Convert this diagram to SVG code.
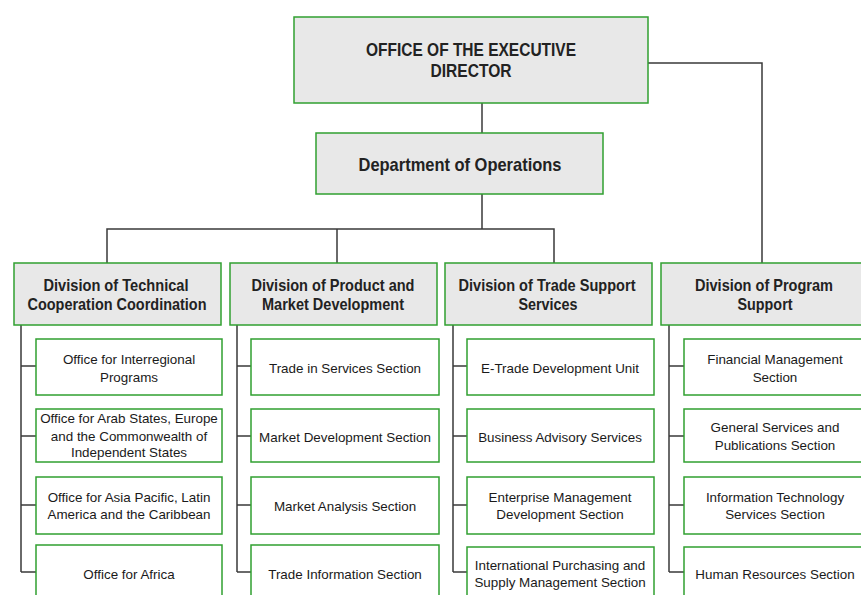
<svg xmlns="http://www.w3.org/2000/svg" width="861" height="595" viewBox="0 0 861 595">
  <style>
    .head { fill: #e8e8e8; stroke: #30a030; stroke-width: 1.5; }
    .unit { fill: #ffffff; stroke: #30a030; stroke-width: 1.5; }
    .ht { font-family: "Liberation Sans", Arial, sans-serif; font-weight: bold; fill: #222; text-anchor: middle; }
    .ut { font-family: "Liberation Sans", Arial, sans-serif; font-size: 13.4px; fill: #1a1a1a; text-anchor: middle; }
    .wire { fill: none; stroke: #3a3a3a; stroke-width: 1.5; }
    .spine { fill: none; stroke: #6a6a6a; stroke-width: 2; }
  </style>

  <!-- reporting lines -->
  <g id="connectors">
    <path class="wire" d="M482 103 V133"/>
    <path class="wire" d="M648 63 H762 V263"/>
    <path class="wire" d="M482 194 V229 M107 263 V229 H554 V263 M337 229 V263"/>
    <path class="spine" d="M21 325 V572 M237 325 V572 M453 325 V572 M669 325 V572"/>
    <path class="wire" d="M21 366 H36 M21 436 H36 M21 505 H36 M21 572 H36"/>
    <path class="wire" d="M237 366 H251 M237 436 H251 M237 505 H251 M237 572 H251"/>
    <path class="wire" d="M453 366 H467 M453 436 H467 M453 505 H467 M453 572 H467"/>
    <path class="wire" d="M669 366 H684 M669 436 H684 M669 505 H684 M669 572 H684"/>
  </g>

  <g id="executive-director">
    <rect class="head" x="294" y="17" width="354" height="86"/>
    <text class="ht" font-size="18" x="471" y="56" textLength="210" lengthAdjust="spacingAndGlyphs">OFFICE OF THE EXECUTIVE</text>
    <text class="ht" font-size="18" x="471" y="77" textLength="81" lengthAdjust="spacingAndGlyphs">DIRECTOR</text>
  </g>

  <g id="department-operations">
    <rect class="head" x="316" y="133" width="287" height="61"/>
    <text class="ht" font-size="19" x="460" y="171" textLength="203" lengthAdjust="spacingAndGlyphs">Department of Operations</text>
  </g>

  <!-- divisions -->
  <g id="div-technical">
    <rect class="head" x="14" y="263" width="207" height="62"/>
    <text class="ht" font-size="17" x="116" y="291" textLength="145" lengthAdjust="spacingAndGlyphs">Division of Technical</text>
    <text class="ht" font-size="17" x="117" y="310" textLength="179" lengthAdjust="spacingAndGlyphs">Cooperation Coordination</text>
  </g>
  <g id="div-product">
    <rect class="head" x="230" y="263" width="207" height="62"/>
    <text class="ht" font-size="17" x="333" y="291" textLength="163" lengthAdjust="spacingAndGlyphs">Division of Product and</text>
    <text class="ht" font-size="17" x="333" y="310" textLength="142" lengthAdjust="spacingAndGlyphs">Market Development</text>
  </g>
  <g id="div-trade">
    <rect class="head" x="445" y="263" width="207" height="62"/>
    <text class="ht" font-size="17" x="547" y="291" textLength="177" lengthAdjust="spacingAndGlyphs">Division of Trade Support</text>
    <text class="ht" font-size="17" x="548" y="310" textLength="59" lengthAdjust="spacingAndGlyphs">Services</text>
  </g>
  <g id="div-program">
    <rect class="head" x="661" y="263" width="208" height="62"/>
    <text class="ht" font-size="17" x="764" y="291" textLength="138" lengthAdjust="spacingAndGlyphs">Division of Program</text>
    <text class="ht" font-size="17" x="765" y="310" textLength="55" lengthAdjust="spacingAndGlyphs">Support</text>
  </g>

  <!-- technical cooperation offices -->
  <g id="office-interregional">
    <rect class="unit" x="36" y="339" width="186" height="56"/>
    <text class="ut" x="129" y="364">Office for Interregional</text>
    <text class="ut" x="129" y="382">Programs</text>
  </g>
  <g id="office-arab-europe-cis">
    <rect class="unit" x="36" y="409" width="186" height="53"/>
    <text class="ut" x="129" y="423">Office for Arab States, Europe</text>
    <text class="ut" x="129" y="441">and the Commonwealth of</text>
    <text class="ut" x="129" y="457">Independent States</text>
  </g>
  <g id="office-asia-latam">
    <rect class="unit" x="36" y="477" width="186" height="57"/>
    <text class="ut" x="129" y="502">Office for Asia Pacific, Latin</text>
    <text class="ut" x="129" y="519">America and the Caribbean</text>
  </g>
  <g id="office-africa">
    <rect class="unit" x="36" y="545" width="186" height="60"/>
    <text class="ut" x="129" y="579">Office for Africa</text>
  </g>

  <!-- product and market development sections -->
  <g id="trade-in-services">
    <rect class="unit" x="251" y="339" width="188" height="56"/>
    <text class="ut" x="345" y="373">Trade in Services Section</text>
  </g>
  <g id="market-development">
    <rect class="unit" x="251" y="409" width="188" height="53"/>
    <text class="ut" x="345" y="442">Market Development Section</text>
  </g>
  <g id="market-analysis">
    <rect class="unit" x="251" y="477" width="188" height="57"/>
    <text class="ut" x="345" y="511">Market Analysis Section</text>
  </g>
  <g id="trade-information">
    <rect class="unit" x="251" y="545" width="188" height="60"/>
    <text class="ut" x="345" y="579">Trade Information Section</text>
  </g>

  <!-- trade support services -->
  <g id="e-trade">
    <rect class="unit" x="467" y="339" width="187" height="56"/>
    <text class="ut" x="560" y="373">E-Trade Development Unit</text>
  </g>
  <g id="business-advisory">
    <rect class="unit" x="467" y="409" width="187" height="53"/>
    <text class="ut" x="560" y="442">Business Advisory Services</text>
  </g>
  <g id="enterprise-management">
    <rect class="unit" x="467" y="477" width="187" height="57"/>
    <text class="ut" x="560" y="502">Enterprise Management</text>
    <text class="ut" x="560" y="519">Development Section</text>
  </g>
  <g id="purchasing-supply">
    <rect class="unit" x="467" y="547" width="187" height="58"/>
    <text class="ut" x="560" y="570">International Purchasing and</text>
    <text class="ut" x="560" y="587">Supply Management Section</text>
  </g>

  <!-- program support sections -->
  <g id="financial-management">
    <rect class="unit" x="684" y="339" width="187" height="56"/>
    <text class="ut" x="775" y="364">Financial Management</text>
    <text class="ut" x="775" y="382">Section</text>
  </g>
  <g id="general-services">
    <rect class="unit" x="684" y="409" width="187" height="53"/>
    <text class="ut" x="775" y="432">General Services and</text>
    <text class="ut" x="775" y="450">Publications Section</text>
  </g>
  <g id="information-technology">
    <rect class="unit" x="684" y="477" width="187" height="57"/>
    <text class="ut" x="775" y="502">Information Technology</text>
    <text class="ut" x="775" y="519">Services Section</text>
  </g>
  <g id="human-resources">
    <rect class="unit" x="684" y="547" width="187" height="58"/>
    <text class="ut" x="775" y="579">Human Resources Section</text>
  </g>
</svg>
